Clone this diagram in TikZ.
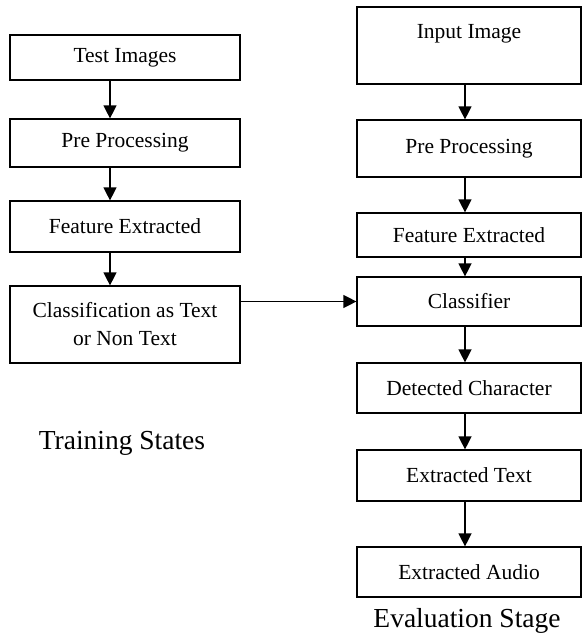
\documentclass[tikz,border=0pt]{standalone}
\usepackage{fontspec}
\setmainfont{Liberation Serif}
\usetikzlibrary{calc,positioning,arrows.meta}

\begin{document}
\begin{tikzpicture}[x=1pt,y=-1pt,
    blk/.style={draw, line width=1.2pt, inner sep=2pt, align=center,
      font=\fontsize{21.5}{28}\selectfont},
    lblk/.style={blk, minimum width=230pt},
    rblk/.style={blk, minimum width=224pt},
    flow/.style={line width=1.3pt, -{Triangle[width=13pt,length=13pt]}},
    stage/.style={font=\fontsize{27.5}{32}\selectfont}]
    \useasboundingbox (0,0) rectangle (582,636);

    % training side
    \node[lblk, minimum height=45pt] (TI) at (125,57.5) {Test Images};
    \node[lblk, minimum height=48pt] (PP1) at (125,143) {Pre Processing};
    \node[lblk, minimum height=51pt] (FE1) at (125,226.5) {Feature Extracted};
    \node[lblk, minimum height=77pt] (CT) at (125,324.5) {Classification as Text\\or Non Text};
    \node[stage] (TS) at (122,443) {Training States};

    % evaluation side
    \node[rblk, minimum height=77pt, text depth=28pt] (II) at (469,45.5) {Input Image};
    \node[rblk, minimum height=57pt] (PP2) at (469,148.5) {Pre Processing};
    \node[rblk, minimum height=44pt] (FE2) at (469,235) {Feature Extracted};
    \node[rblk, minimum height=49pt] (CL) at (469,301.5) {Classifier};
    \node[rblk, minimum height=50pt] (DC) at (469,388) {Detected Character};
    \node[rblk, minimum height=51pt] (ET) at (469,475.5) {Extracted Text};
    \node[rblk, minimum height=50pt] (EA) at (469,572) {Extracted Audio};
    \node[stage] (ES) at (467,621) {Evaluation Stage};

    \draw[flow] ([xshift=-15pt]TI.south) -- ([xshift=-15pt]PP1.north);
    \draw[flow] ([xshift=-15pt]PP1.south) -- ([xshift=-15pt]FE1.north);
    \draw[flow] ([xshift=-15pt]FE1.south) -- ([xshift=-15pt]CT.north);

    \draw[flow] ([xshift=-4pt]II.south) -- ([xshift=-4pt]PP2.north);
    \draw[flow] ([xshift=-4pt]PP2.south) -- ([xshift=-4pt]FE2.north);
    \draw[flow] ([xshift=-4pt]FE2.south) -- ([xshift=-4pt]CL.north);
    \draw[flow] ([xshift=-4pt]CL.south) -- ([xshift=-4pt]DC.north);
    \draw[flow] ([xshift=-4pt]DC.south) -- ([xshift=-4pt]ET.north);
    \draw[flow] ([xshift=-4pt]ET.south) -- ([xshift=-4pt]EA.north);

    \draw[flow] (CT.east |- CL.west) -- (CL.west);
\end{tikzpicture}
\end{document}
